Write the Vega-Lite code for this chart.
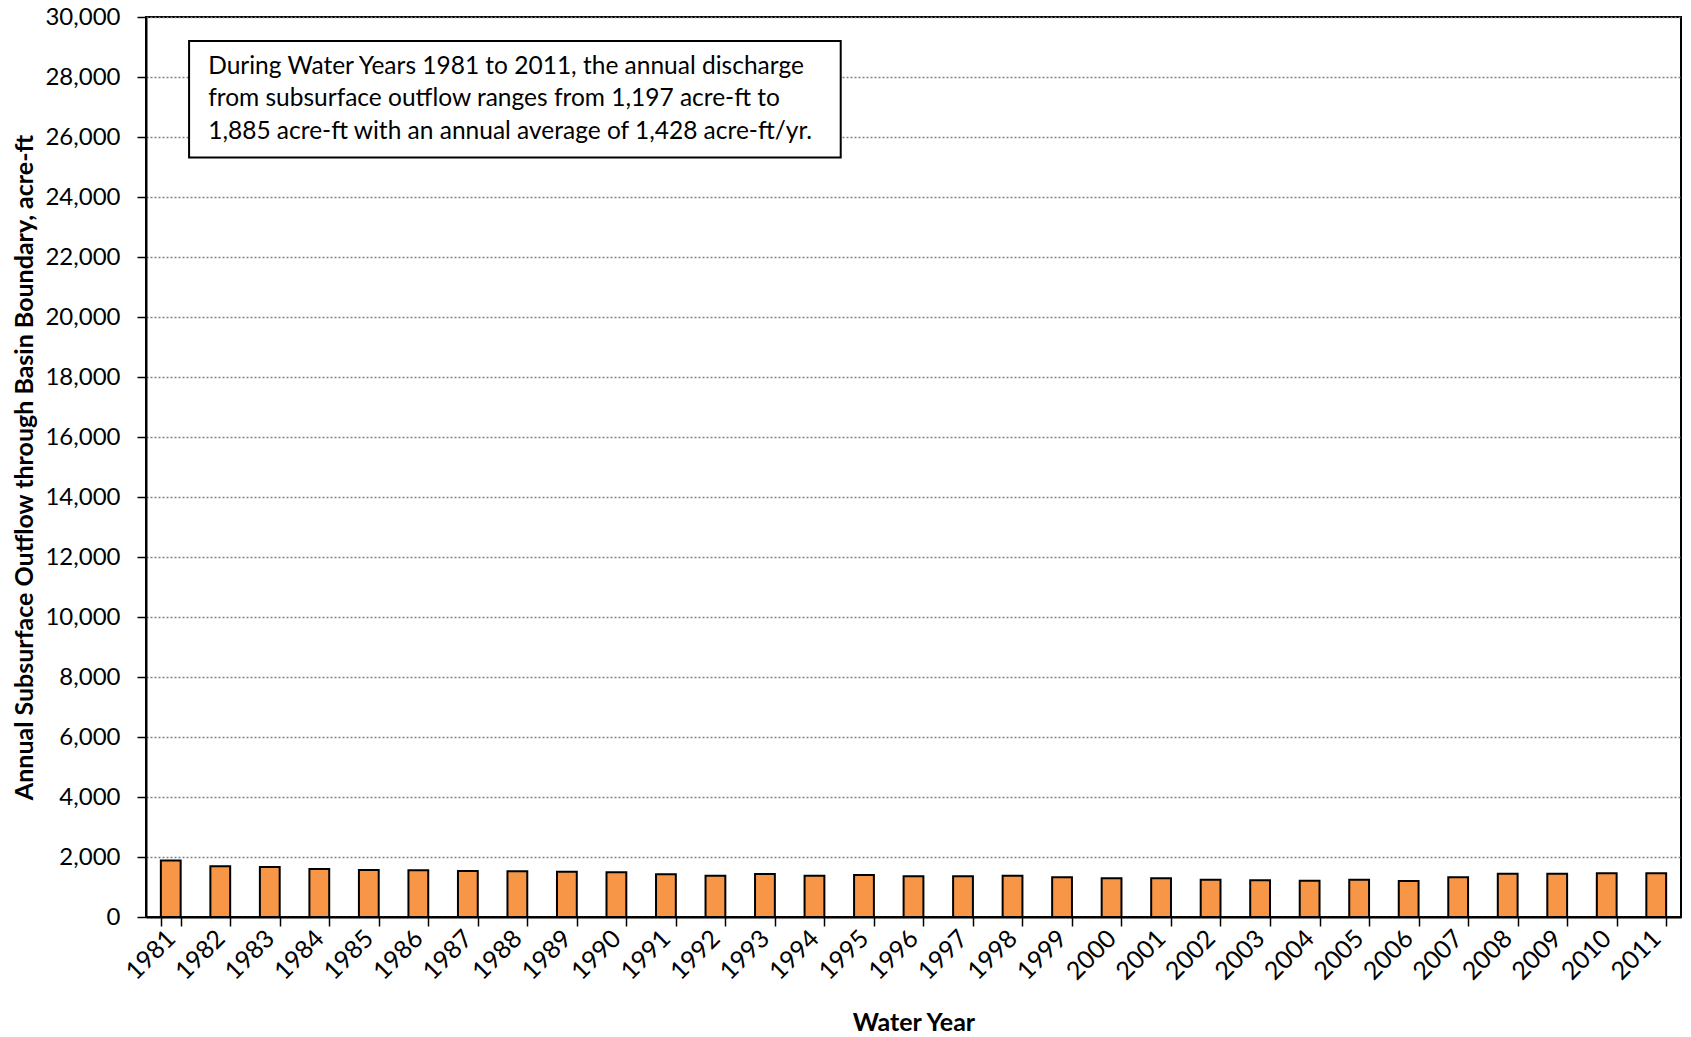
{
  "$schema": "https://vega.github.io/schema/vega-lite/v6.json",
  "width": 1535,
  "height": 900,
  "autosize": {"type": "none"},
  "padding": {"left": 146, "top": 17, "right": 10, "bottom": 120},
  "background": "white",
  "config": {"view": {"stroke": "black", "strokeWidth": 2}, "font": "Lato"},
  "datasets": {
    "flow": [
      {"year": "1981", "outflow": 1885}, {"year": "1982", "outflow": 1690}, {"year": "1983", "outflow": 1668},
      {"year": "1984", "outflow": 1601}, {"year": "1985", "outflow": 1567}, {"year": "1986", "outflow": 1556},
      {"year": "1987", "outflow": 1534}, {"year": "1988", "outflow": 1523}, {"year": "1989", "outflow": 1512},
      {"year": "1990", "outflow": 1489}, {"year": "1991", "outflow": 1422}, {"year": "1992", "outflow": 1377},
      {"year": "1993", "outflow": 1433}, {"year": "1994", "outflow": 1377}, {"year": "1995", "outflow": 1400},
      {"year": "1996", "outflow": 1355}, {"year": "1997", "outflow": 1355}, {"year": "1998", "outflow": 1377},
      {"year": "1999", "outflow": 1322}, {"year": "2000", "outflow": 1288}, {"year": "2001", "outflow": 1288},
      {"year": "2002", "outflow": 1243}, {"year": "2003", "outflow": 1221}, {"year": "2004", "outflow": 1210},
      {"year": "2005", "outflow": 1243}, {"year": "2006", "outflow": 1197}, {"year": "2007", "outflow": 1322},
      {"year": "2008", "outflow": 1445}, {"year": "2009", "outflow": 1445}, {"year": "2010", "outflow": 1456},
      {"year": "2011", "outflow": 1456}
    ],
    "box": [{"x": 0.87, "x2": 14.03, "y": 25317, "y2": 29200}],
    "note": [
      {"x": 1.256, "y": 28333, "line": "During Water Years 1981 to 2011, the annual discharge"},
      {"x": 1.256, "y": 27267, "line": "from subsurface outflow ranges from 1,197 acre-ft to"},
      {"x": 1.256, "y": 26180, "line": "1,885 acre-ft with an annual average of 1,428 acre-ft/yr."}
    ]
  },
  "layer": [
    {
      "data": {"name": "flow"},
      "mark": {"type": "bar", "fill": "#F79646", "stroke": "black", "strokeWidth": 2},
      "encoding": {
        "x": {
          "field": "year", "type": "ordinal",
          "scale": {"paddingInner": 0.6, "paddingOuter": 0.3},
          "axis": {
            "title": "Water Year", "titleFont": "Lato", "titleFontSize": 25, "titleFontWeight": "bold",
            "titleColor": "black", "titleX": 767.5, "titleY": 105, "titleBaseline": "middle", "titleAlign": "center",
            "labelAngle": -45, "labelAlign": "right", "labelBaseline": "middle", "labelFont": "Lato",
            "labelFontSize": 25, "labelColor": "black", "labelPadding": 8,
            "tickBand": "extent", "tickSize": 9, "tickColor": "black", "tickWidth": 1.5,
            "domainColor": "black", "domainWidth": 2, "grid": false
          }
        },
        "y": {
          "field": "outflow", "type": "quantitative",
          "scale": {"domain": [0, 30000], "nice": false},
          "axis": {
            "title": "Annual Subsurface Outflow through Basin Boundary, acre-ft",
            "titleFont": "Lato", "titleFontSize": 25, "titleFontWeight": "bold", "titleColor": "black",
            "titleAngle": -90, "titleX": -122, "titleY": 450, "titleAlign": "center", "titleBaseline": "middle",
            "values": [0, 2000, 4000, 6000, 8000, 10000, 12000, 14000, 16000, 18000, 20000, 22000, 24000, 26000, 28000, 30000],
            "format": ",.0f", "labelFont": "Lato", "labelFontSize": 24, "labelColor": "black", "labelPadding": 17,
            "tickSize": 9, "tickColor": "black", "tickWidth": 1.5,
            "domainColor": "black", "domainWidth": 2,
            "grid": true, "gridDash": [2, 2], "gridColor": "#808080", "gridWidth": 1.3
          }
        }
      }
    },
    {
      "data": {"name": "box"},
      "mark": {"type": "rect", "fill": "white", "stroke": "black", "strokeWidth": 2},
      "encoding": {
        "x": {"field": "x", "type": "quantitative", "scale": {"domain": [0, 31], "nice": false, "zero": false}, "axis": null},
        "x2": {"field": "x2"},
        "y": {"field": "y", "type": "quantitative", "scale": {"domain": [0, 30000], "nice": false}, "axis": null},
        "y2": {"field": "y2"}
      }
    },
    {
      "data": {"name": "note"},
      "mark": {"type": "text", "align": "left", "baseline": "middle", "fontSize": 24.5, "font": "Lato", "color": "black"},
      "encoding": {
        "x": {"field": "x", "type": "quantitative", "scale": {"domain": [0, 31], "nice": false, "zero": false}, "axis": null},
        "y": {"field": "y", "type": "quantitative", "scale": {"domain": [0, 30000], "nice": false}, "axis": null},
        "text": {"field": "line"}
      }
    }
  ],
  "resolve": {"scale": {"x": "independent", "y": "independent"}}
}
